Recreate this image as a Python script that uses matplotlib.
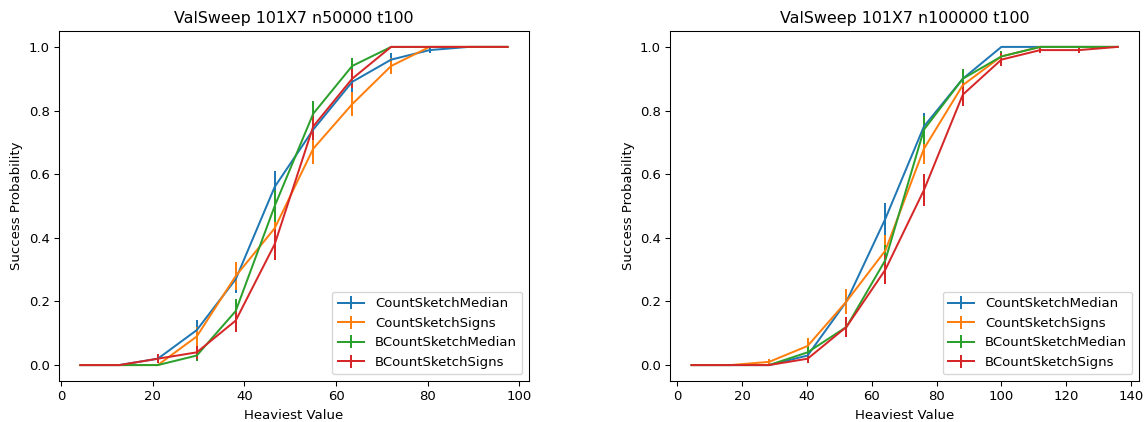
import matplotlib
matplotlib.use("Agg")
import matplotlib.pyplot as plt

series_names = ["CountSketchMedian", "CountSketchSigns", "BCountSketchMedian", "BCountSketchSigns"]

# Left panel: n50000
x_left = [4.2, 12.7, 21.1, 29.6, 38.1, 46.6, 55.0, 63.5, 72.0, 80.4, 88.9, 97.4]
left_csm = [0, 0, 0.02, 0.11, 0.27, 0.56, 0.74, 0.89, 0.96, 0.99, 1, 1]
left_css = [0, 0, 0, 0.09, 0.28, 0.43, 0.68, 0.82, 0.94, 1, 1, 1]
left_bcsm = [0, 0, 0, 0.03, 0.17, 0.50, 0.79, 0.94, 1, 1, 1, 1]
left_bcss = [0, 0, 0.02, 0.04, 0.14, 0.38, 0.75, 0.90, 1, 1, 1, 1]
left_csm_err = [0, 0, 0.014, 0.031, 0.044, 0.050, 0.044, 0.031, 0.020, 0.010, 0, 0]
left_css_err = [0, 0, 0, 0.029, 0.045, 0.050, 0.047, 0.038, 0.024, 0, 0, 0]
left_bcsm_err = [0, 0, 0, 0.017, 0.038, 0.050, 0.041, 0.024, 0, 0, 0, 0]
left_bcss_err = [0, 0, 0.014, 0.020, 0.035, 0.049, 0.043, 0.030, 0, 0, 0, 0]

# Right panel: n100000
x_right = [4.4, 16.4, 28.3, 40.2, 52.2, 64.2, 76.1, 88.1, 100.0, 112.0, 123.9, 135.9]
right_csm = [0, 0, 0, 0.03, 0.20, 0.46, 0.75, 0.90, 1, 1, 1, 1]
right_css = [0, 0, 0.01, 0.06, 0.20, 0.36, 0.68, 0.88, 0.97, 1, 1, 1]
right_bcsm = [0, 0, 0, 0.04, 0.12, 0.33, 0.74, 0.90, 0.97, 1, 1, 1]
right_bcss = [0, 0, 0, 0.02, 0.12, 0.30, 0.55, 0.85, 0.96, 0.99, 0.99, 1]
right_csm_err = [0, 0, 0, 0.017, 0.040, 0.050, 0.043, 0.030, 0, 0, 0, 0]
right_css_err = [0, 0, 0.010, 0.024, 0.040, 0.048, 0.047, 0.032, 0.017, 0, 0, 0]
right_bcsm_err = [0, 0, 0, 0.020, 0.032, 0.047, 0.044, 0.030, 0.017, 0, 0, 0]
right_bcss_err = [0, 0, 0, 0.014, 0.032, 0.046, 0.050, 0.036, 0.020, 0.010, 0.010, 0]

titles = ["ValSweep 101X7 n50000 t100", "ValSweep 101X7 n100000 t100"]

fig = plt.figure(figsize=(12.0, 4.419), dpi=95.5)
ax1 = fig.add_axes([0.0515, 0.0972, 0.41, 0.8293])
ax2 = fig.add_axes([0.5849, 0.0972, 0.409, 0.8293])

panels = [
    (ax1, x_left, [left_csm, left_css, left_bcsm, left_bcss],
     [left_csm_err, left_css_err, left_bcsm_err, left_bcss_err], titles[0]),
    (ax2, x_right, [right_csm, right_css, right_bcsm, right_bcss],
     [right_csm_err, right_css_err, right_bcsm_err, right_bcss_err], titles[1]),
]

for ax, xs, ys, errs, title in panels:
    for name, y, e in zip(series_names, ys, errs):
        ax.errorbar(xs, y, yerr=e, label=name)
    ax.set_title(title)
    ax.set_xlabel("Heaviest Value")
    ax.set_ylabel("Success Probability")
    ax.legend(loc="lower right")

fig.savefig("out.png", dpi=95.5)
